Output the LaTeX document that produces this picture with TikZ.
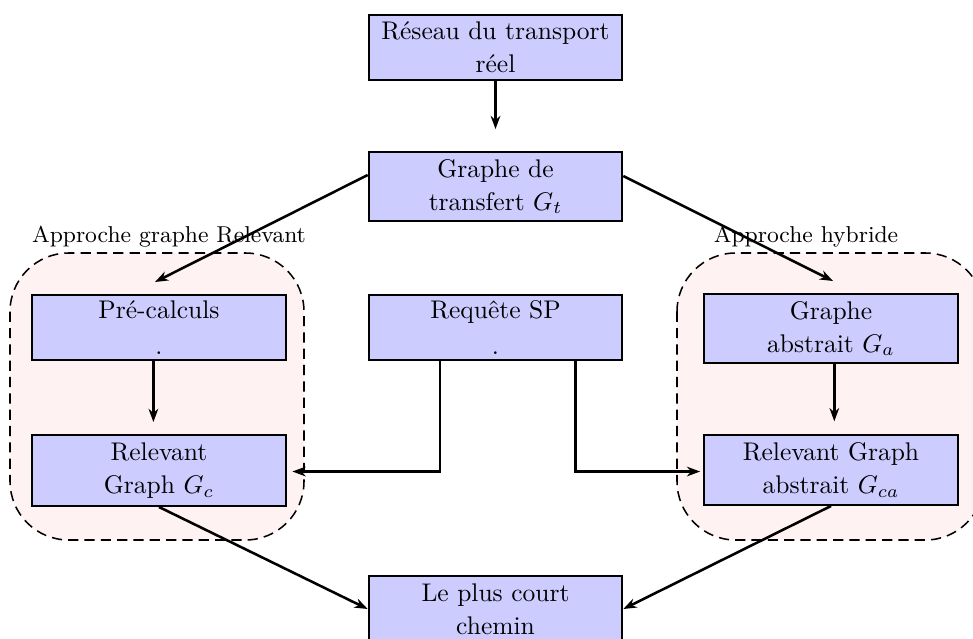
\documentclass[tikz,border=0pt]{standalone}
\usetikzlibrary{arrows.meta,calc}
\begin{document}
\begin{tikzpicture}[x=0.392pt,y=-0.392pt,
  every node/.style={font=\fontsize{10}{12.94}\selectfont},
  stepbox/.style={draw,line width=0.8pt,fill=blue!20,align=center,inner sep=2pt,minimum width=99.4pt},
  grp/.style={draw,dashed,dash pattern=on 4pt off 2.4pt,line width=0.6pt,fill=red!5,rounded corners=23pt},
  lbl/.style={font=\fontsize{9}{11}\selectfont,inner sep=0pt},
  arr/.style={line width=1pt,-{Stealth[length=5.2pt,width=3.8pt]}}]
\useasboundingbox (0,0) rectangle (973,639);
\clip (0,0) rectangle (973,639);
% groups
\draw[grp] (10,253) rectangle (304,540);
\draw[grp] (677,253) rectangle (984,540);
\node[lbl] (l1) at (169,237) {Approche graphe Relevant};
\node[lbl] (l2) at (806,237) {Approche hybride};
% boxes
\node[stepbox,minimum height=25.5pt] (reseau) at (495.5,47.5) {Réseau du transport\\réel};
\node[stepbox,minimum height=27pt] (transfert) at (495.5,186.5) {Graphe de\\transfert $G_t$};
\node[stepbox,minimum height=25.5pt] (precalc) at (159,327.5) {Pré-calculs\\[1pt].};
\node[stepbox,minimum height=25.5pt] (requete) at (495.5,327.5) {Requête SP\\[1pt].};
\node[stepbox,minimum height=27pt] (abstrait) at (831,328.5) {Graphe\\abstrait $G_a$};
\node[stepbox,minimum height=27.8pt] (gc) at (159,470.5) {Relevant\\Graph $G_c$};
\node[stepbox,minimum height=27.4pt] (gca) at (831,470) {Relevant Graph\\abstrait $G_{ca}$};
\node[stepbox,minimum height=25.9pt] (court) at (495.5,609) {Le plus court\\chemin};
% free ends
\coordinate (inL) at (155,282);
\coordinate (inR) at (833,281);
% connectors
\draw[arr,shorten >=8.6pt] (reseau.south) -- (transfert.north);
\draw[arr] ($(transfert.west)+(0,-11.5)$) -- (inL);
\draw[arr] ($(transfert.east)+(0,-10.5)$) -- (inR);
\draw[arr] ([xshift=-2.2pt]precalc.south) -- ([xshift=-2.2pt,yshift=4.7pt]gc.north);
\draw[arr] ([xshift=1.3pt]abstrait.south) -- ([xshift=1.3pt,yshift=5pt]gca.north);
\draw[arr,shorten >=2.2pt] ([xshift=-21.8pt]requete.south) |- ([yshift=-0.4pt]gc.east);
\draw[arr,shorten >=1.2pt] ([xshift=31.4pt]requete.south) |- ([yshift=-0.6pt]gca.west);
\draw[arr] (gc.south) -- (court.west);
\draw[arr] (gca.south) -- (court.east);
\end{tikzpicture}
\end{document}
